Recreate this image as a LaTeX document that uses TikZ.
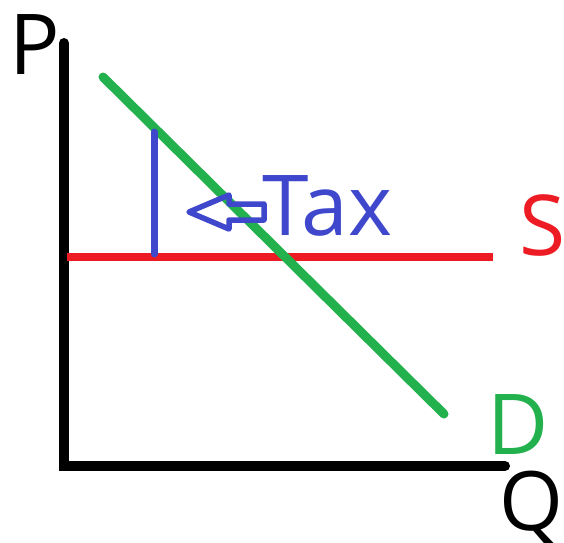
\documentclass[tikz,border=0pt]{standalone}
\usepackage{fontspec}
\setmainfont{Open Sans}
\definecolor{tgreen}{RGB}{34,177,76}
\definecolor{tred}{RGB}{237,28,36}
\definecolor{tblue}{RGB}{63,72,204}
\begin{document}
\begin{tikzpicture}[x=1pt,y=-1pt,
  lbl/.style={inner sep=0pt,anchor=base west},
  big/.style={font=\fontsize{84}{84}\selectfont},
  axis/.style={line width=10pt,line cap=round,black}]
\useasboundingbox (0,0) rectangle (564,542);
\coordinate (top) at (64,43);
\coordinate (origin) at (64,466);
\coordinate (right) at (505,466);
\draw[axis] (top) -- (origin) -- (right);
\coordinate (s1) at (67,257);
\coordinate (s2) at (493,257);
\draw[tred,line width=8.5pt] (s1) -- (s2);
\coordinate (d1) at (103,77);
\coordinate (d2) at (444,414);
\draw[tgreen,line width=9pt,line cap=round] (d1) -- (d2);
\coordinate (t1) at (154,132);
\coordinate (t2) at (154,254);
\draw[tblue,line width=7pt,line cap=round] (t1) -- (t2);
\draw[tblue,line width=5.5pt,line join=round] (189,212) -- (229,195) -- (229,204) -- (264,204) -- (264,220) -- (229,220) -- (229,229) -- cycle;
\node[lbl,big,text=tblue] (tax) at (262,235) {Tax};
\node[lbl,big,text=tred] (S) at (519,255) {S};
\node[lbl,big,text=black] (P) at (9,74) {P};
\node[lbl,big,text=tgreen] (D) at (487,454) {D};
\node[lbl,text=black,font=\fontsize{82}{82}\selectfont] (Q) at (499,530) {Q};
\end{tikzpicture}
\end{document}
